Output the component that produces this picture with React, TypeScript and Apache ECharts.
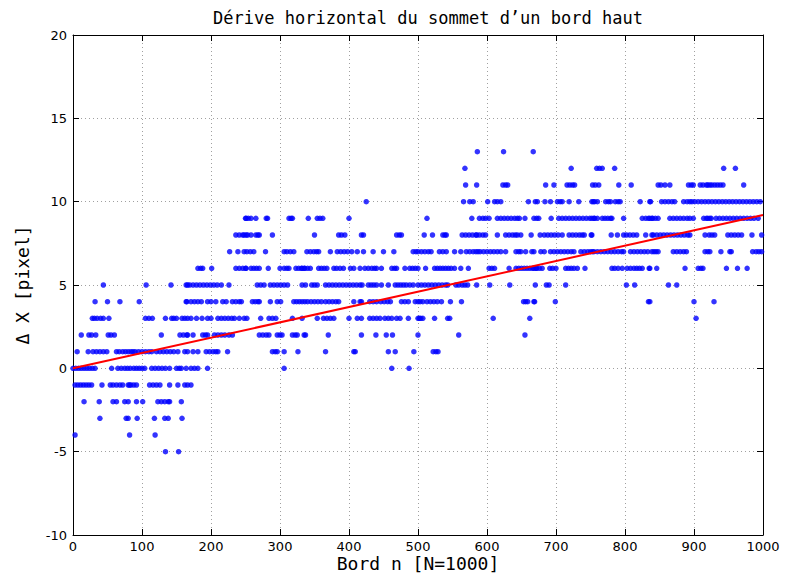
import React, { useEffect, useRef } from "react";
import * as echarts from "echarts";

// Edge index n (x) for each integer drift value (y)
const nM5 = [134, 153];
const nM4 = [3, 82, 119];
const nM3 = [39, 77, 80, 93, 118, 133, 138, 158];
const nM2 = [16, 38, 58, 63, 75, 80, 92, 101, 123, 128, 133, 138, 140, 157];
const nM1 = [3, 7, 11, 15, 19, 23, 27, 42, 54, 58, 63, 68, 72, 80, 82, 84, 88, 92, 111, 116, 121, 126, 140, 152, 162, 166, 171];
const n0 = [0, 4, 8, 12, 16, 20, 24, 28, 32, 56, 65, 70, 75, 79, 83, 88, 92, 96, 100, 104, 114, 119, 124, 129, 134, 140, 150, 154, 157, 164, 171, 176, 181, 195, 306, 462, 487];
const n1 = [6, 22, 29, 34, 39, 44, 49, 63, 67, 72, 76, 80, 84, 87, 90, 95, 100, 105, 110, 114, 121, 126, 131, 136, 141, 146, 152, 162, 166, 174, 181, 193, 198, 203, 207, 210, 224, 289, 293, 296, 306, 326, 366, 407, 409, 457, 467, 494, 522, 526, 529];
const n2 = [12, 23, 27, 33, 51, 55, 60, 128, 155, 160, 165, 166, 174, 188, 192, 195, 205, 210, 215, 220, 226, 231, 270, 275, 280, 284, 296, 300, 303, 318, 322, 325, 335, 337, 370, 418, 439, 454, 463, 500, 559, 655];
const n3 = [28, 31, 35, 40, 44, 52, 105, 110, 115, 134, 143, 146, 150, 158, 162, 166, 171, 179, 187, 195, 200, 210, 215, 220, 225, 230, 234, 241, 248, 252, 272, 284, 289, 294, 318, 332, 354, 363, 368, 373, 378, 400, 412, 418, 430, 435, 440, 445, 452, 457, 462, 469, 474, 486, 500, 502, 504, 507, 524, 543, 546, 609, 662, 903];
const n4 = [32, 50, 68, 96, 164, 165, 171, 176, 181, 186, 195, 200, 207, 217, 222, 231, 236, 241, 244, 260, 264, 268, 270, 286, 296, 301, 320, 324, 328, 332, 336, 340, 345, 350, 355, 360, 366, 371, 376, 381, 385, 407, 416, 418, 430, 435, 440, 446, 451, 456, 460, 476, 481, 486, 496, 500, 503, 507, 513, 518, 523, 528, 534, 547, 563, 653, 656, 659, 668, 669, 699, 834, 836, 900, 929];
const n5 = [44, 106, 142, 164, 166, 169, 174, 179, 184, 189, 194, 199, 204, 209, 215, 226, 267, 272, 277, 286, 291, 296, 301, 306, 311, 332, 337, 346, 350, 354, 366, 371, 376, 381, 386, 391, 396, 401, 406, 411, 416, 419, 428, 432, 436, 440, 447, 457, 467, 471, 475, 479, 483, 488, 493, 500, 505, 510, 515, 520, 525, 530, 535, 540, 543, 555, 559, 564, 568, 572, 585, 604, 633, 670, 686, 690, 714, 802, 814, 863, 875];
const n6 = [181, 185, 188, 201, 236, 241, 246, 250, 251, 258, 262, 266, 270, 283, 300, 306, 310, 313, 323, 327, 331, 332, 335, 336, 340, 344, 356, 360, 364, 368, 378, 382, 387, 392, 402, 407, 416, 423, 428, 433, 437, 440, 447, 462, 466, 469, 481, 488, 492, 496, 500, 511, 524, 528, 532, 536, 540, 544, 548, 553, 562, 573, 603, 607, 611, 632, 642, 646, 650, 654, 658, 662, 666, 668, 671, 672, 676, 680, 691, 695, 700, 714, 718, 722, 726, 731, 742, 781, 785, 790, 796, 803, 808, 813, 817, 821, 825, 835, 836, 846, 887, 906, 910, 913, 947, 963, 977];
const n7 = [227, 239, 248, 252, 257, 262, 279, 306, 310, 315, 320, 339, 344, 349, 353, 356, 373, 383, 388, 393, 398, 404, 412, 421, 435, 450, 465, 493, 497, 500, 505, 510, 515, 519, 531, 536, 541, 553, 562, 570, 575, 580, 584, 587, 590, 595, 600, 605, 610, 615, 620, 627, 642, 646, 649, 656, 665, 668, 678, 683, 692, 697, 702, 707, 712, 717, 722, 726, 736, 741, 746, 750, 753, 755, 760, 765, 770, 775, 780, 785, 790, 795, 798, 808, 813, 818, 823, 828, 833, 839, 842, 845, 848, 870, 875, 880, 885, 889, 916, 920, 923, 939, 952, 954, 985, 990, 994, 998];
const n8 = [236, 241, 246, 248, 251, 253, 258, 265, 268, 270, 289, 350, 385, 389, 394, 418, 421, 469, 473, 476, 509, 521, 536, 539, 541, 564, 569, 574, 579, 584, 585, 589, 594, 598, 615, 627, 632, 637, 641, 644, 649, 664, 677, 683, 688, 693, 698, 703, 709, 719, 724, 729, 734, 738, 741, 751, 752, 780, 789, 798, 802, 807, 812, 817, 830, 839, 841, 846, 851, 856, 861, 866, 871, 876, 881, 886, 891, 894, 916, 922, 926, 930, 949, 954, 959, 964, 969, 984, 998];
const n9 = [250, 251, 254, 258, 265, 280, 282, 313, 316, 318, 341, 354, 358, 362, 400, 513, 578, 589, 594, 598, 603, 615, 620, 625, 630, 635, 640, 644, 647, 655, 668, 672, 675, 693, 704, 709, 714, 719, 724, 729, 734, 739, 744, 749, 752, 755, 756, 760, 767, 771, 775, 779, 781, 798, 825, 830, 834, 836, 839, 840, 844, 848, 865, 870, 875, 880, 885, 890, 894, 899, 914, 918, 920, 923, 925, 932, 937, 942, 947, 952, 957, 962, 967, 972, 977, 982, 987, 993];
const n10 = [425, 566, 575, 580, 601, 611, 615, 620, 660, 670, 673, 684, 692, 702, 706, 709, 719, 733, 752, 754, 756, 760, 772, 776, 779, 786, 790, 793, 822, 836, 837, 853, 858, 863, 868, 872, 885, 890, 894, 897, 901, 906, 911, 916, 921, 926, 931, 936, 941, 946, 951, 956, 961, 966, 971, 976, 981, 986, 991, 996];
const n11 = [569, 585, 623, 627, 630, 685, 697, 716, 720, 724, 727, 753, 757, 762, 791, 809, 848, 852, 858, 865, 892, 896, 899, 909, 913, 918, 920, 923, 926, 930, 934, 938, 942, 972];
const n12 = [568, 722, 759, 763, 767, 785, 943, 960];
const n13 = [586, 624, 667];

const levels: [number, number[]][] = [
  [-5, nM5], [-4, nM4], [-3, nM3], [-2, nM2], [-1, nM1], [0, n0], [1, n1], [2, n2],
  [3, n3], [4, n4], [5, n5], [6, n6], [7, n7], [8, n8], [9, n9], [10, n10],
  [11, n11], [12, n12], [13, n13],
];

// Linear fit (red line) endpoints
const fitX = [0, 1000];
const fitY = [0.0, 9.2];

const titleText = "Dérive horizontal du sommet d’un bord haut";
const xLabel = "Bord n [N=1000]";
const yLabel = "Δ X [pixel]";

export default function App() {
  const ref = useRef<HTMLDivElement>(null);
  useEffect(() => {
    if (!ref.current) return;
    const chart = echarts.init(ref.current, undefined, { renderer: "svg" });
    const scatterData = levels.flatMap(([v, ns]) => ns.map((n) => [n, v]));
    const fitData = fitX.map((x, i) => [x, fitY[i]]);
    const mono = "DejaVu Sans Mono";
    const tickFont = { fontFamily: "DejaVu Sans", fontSize: 13, color: "#000" };
    const splitLine = { show: true, lineStyle: { color: "#a0a0a0", type: [1, 3] as any, width: 1 } };
    const axisLine = { show: true, onZero: false, lineStyle: { color: "#000", width: 1 } };
    const axisTick = { show: true, inside: true, length: 6, lineStyle: { color: "#000" } };
    const plain = (v: number) => String(v);
    chart.setOption({
      animation: false,
      backgroundColor: "#fff",
      grid: { left: 73, right: 25, top: 35, bottom: 38, containLabel: false },
      xAxis: [
        {
          type: "value", min: 0, max: 1000, interval: 100, position: "bottom",
          axisLine, axisTick, splitLine,
          axisLabel: { ...tickFont, margin: 5, formatter: plain },
        },
        {
          type: "value", min: 0, max: 1000, interval: 100, position: "top",
          axisLine, axisTick, splitLine: { show: false }, axisLabel: { show: false },
        },
      ],
      yAxis: [
        {
          type: "value", min: -10, max: 20, interval: 5, position: "left",
          axisLine, axisTick, splitLine,
          axisLabel: { ...tickFont, margin: 6, formatter: plain },
        },
        {
          type: "value", min: -10, max: 20, interval: 5, position: "right",
          axisLine, axisTick, splitLine: { show: false }, axisLabel: { show: false },
        },
      ],
      graphic: [
        {
          type: "text", x: 428, y: 18,
          style: { text: titleText, font: `17px "${mono}"`, fill: "#000", align: "center", verticalAlign: "middle" },
        },
        {
          type: "text", x: 418, y: 563,
          style: { text: xLabel, font: `18px "${mono}"`, fill: "#000", align: "center", verticalAlign: "middle" },
        },
        {
          type: "text", x: 22, y: 285, rotation: Math.PI / 2,
          style: { text: yLabel, font: `18px "${mono}"`, fill: "#000", align: "center", verticalAlign: "middle" },
        },
      ],
      series: [
        {
          type: "scatter", data: scatterData, symbol: "circle", symbolSize: 5.5,
          itemStyle: { color: "#0000ff" }, xAxisIndex: 0, yAxisIndex: 0, z: 2,
        },
        {
          type: "line", data: fitData, symbol: "none", xAxisIndex: 0, yAxisIndex: 0,
          lineStyle: { color: "#ff0000", width: 2 }, z: 3,
        },
      ],
    });
    return () => chart.dispose();
  }, []);
  return <div ref={ref} style={{ position: "fixed", left: 0, top: 0, width: 788, height: 573 }} />;
}
